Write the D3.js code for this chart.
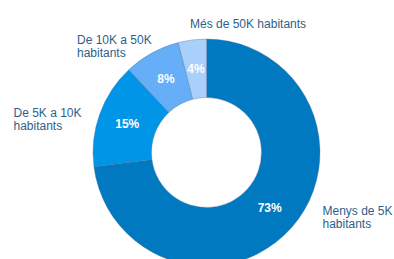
<!DOCTYPE html>
<html><head><meta charset="utf-8">
<script src="https://cdn.jsdelivr.net/npm/d3@7"></script>
<style>html,body{margin:0;padding:0;background:#fff;overflow:hidden}</style>
</head><body>
<svg id="c" width="394" height="259"></svg>
<script>
const categories = ["Menys de 5K habitants", "De 5K a 10K habitants", "De 10K a 50K habitants", "Més de 50K habitants"];
const labelLines = [["Menys de 5K", "habitants"], ["De 5K a 10K", "habitants"], ["De 10K a 50K", "habitants"], ["Més de 50K habitants"]];
const values = [73, 15, 8, 4];
const colors = ["#0079c1", "#0095e6", "#66aef8", "#a9cffb"];

// layout (not data): outer label text anchor positions relative to center
const cx = 206.5, cy = 152.5, rOuter = 113.5, rInner = 55;
const labelOffsets = [[116, 62.5], [-193, -35.5], [-129.5, -108.5], [-16.5, -124.5]];

const svg = d3.select("#c");
const g = svg.append("g").attr("transform", `translate(${cx},${cy})`);
const pie = d3.pie().sort(null).value(d => d)(values);
const arc = d3.arc().innerRadius(rInner).outerRadius(rOuter);

g.selectAll("path").data(pie).join("path")
  .attr("d", arc)
  .attr("fill", (d, i) => colors[i])
  .attr("stroke", "rgba(80,110,150,0.35)")
  .attr("stroke-width", 1);

g.selectAll("text.pct").data(pie).join("text")
  .attr("class", "pct")
  .attr("transform", d => `translate(${arc.centroid(d)})`)
  .attr("text-anchor", "middle")
  .attr("dy", "0.35em")
  .attr("fill", "#fff")
  .attr("font-family", "Liberation Sans, Arial, sans-serif")
  .attr("font-weight", "bold")
  .attr("font-size", 12)
  .text(d => d.value + "%");

const lab = g.selectAll("text.lab").data(pie).join("text")
  .attr("class", "lab")
  .attr("x", (d, i) => labelOffsets[i][0])
  .attr("y", (d, i) => labelOffsets[i][1])
  .attr("fill", "#2e5f8a")
  .attr("font-family", "Liberation Sans, Arial, sans-serif")
  .attr("font-size", 12);
lab.each(function(d, i) {
  const t = d3.select(this);
  labelLines[i].forEach((l, j) => {
    t.append("tspan").attr("x", labelOffsets[i][0]).attr("dy", j === 0 ? 0 : 13.3).text(l);
  });
});
</script>
</body></html>
